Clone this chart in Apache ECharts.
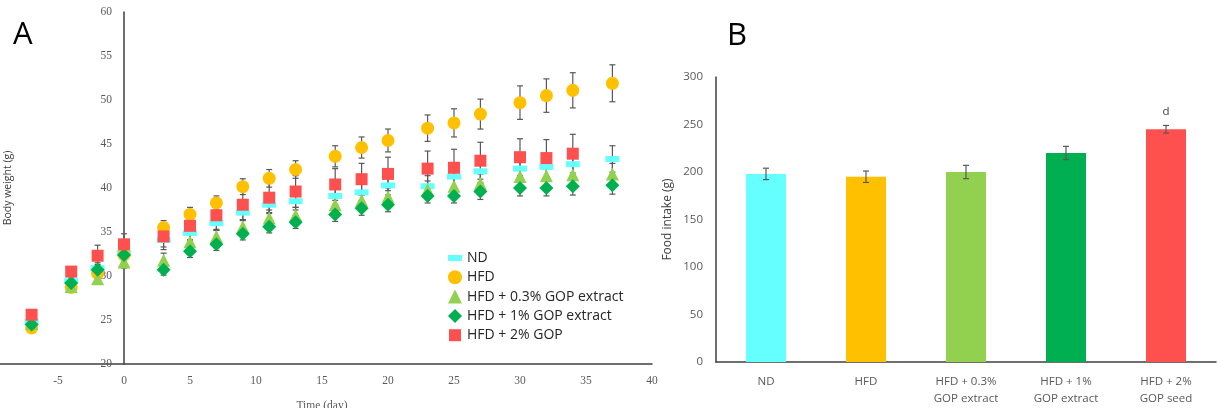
<!DOCTYPE html>
<html><head><meta charset="utf-8">
<script src="https://cdn.jsdelivr.net/npm/echarts@6/dist/echarts.min.js"></script>
<style>html,body{margin:0;padding:0;background:#fff}#c{width:1218px;height:408px}</style>
</head><body><div id="c"></div>
<script>
// ---- Panel A data: body weight (g) over time (day)
const days = [-7,-4,-2,0,3,5,7,9,11,13,16,18,20,23,25,27,30,32,34,37];
const seriesNames = ['ND','HFD','HFD + 0.3% GOP extract','HFD + 1% GOP extract','HFD + 2% GOP'];
const bwND    = [24.8,29.4,30.9,32.6,34.1,34.9,36.0,37.2,38.1,38.5,39.1,39.5,40.3,40.2,41.3,41.9,42.2,42.4,42.7,43.3];
const bwHFD   = [24.1,28.7,30.3,32.4,35.5,37.0,38.3,40.15,41.1,42.1,43.6,44.6,45.4,46.8,47.4,48.4,49.7,50.5,51.1,51.9];
const bwG03   = [24.6,28.8,29.7,31.6,31.8,33.9,34.5,35.6,36.6,36.9,38.1,38.6,39.0,39.8,40.2,40.5,41.3,41.4,41.5,41.6];
const bwG1    = [24.5,29.2,30.7,32.4,30.7,32.8,33.6,34.8,35.6,36.1,37.0,37.7,38.1,39.1,39.1,39.6,40.0,40.0,40.2,40.3];
const bwG2    = [25.6,30.5,32.3,33.6,34.5,35.7,36.9,38.1,38.9,39.6,40.4,41.0,41.6,42.2,42.3,43.1,43.5,43.4,43.9,null];
const errND   = [0.3,0.5,0.6,0.7,0.8,0.8,0.8,0.9,0.9,1.0,1.0,1.0,1.1,1.2,1.2,1.3,1.3,1.3,1.4,1.5];
const errHFD  = [0.3,0.5,0.6,0.7,0.8,0.8,0.8,0.9,1.0,1.0,1.2,1.2,1.3,1.5,1.6,1.7,1.9,1.9,2.0,2.1];
const errG03  = [0.3,0.5,0.6,0.7,0.8,0.8,0.8,0.8,0.9,0.9,1.0,1.0,1.0,1.0,1.0,1.1,1.1,1.1,1.1,1.2];
const errG1   = [0.3,0.5,0.6,0.6,0.6,0.7,0.7,0.7,0.7,0.7,0.8,0.8,0.8,0.8,0.8,0.9,0.9,0.9,1.0,1.0];
const errG2   = [0.3,0.5,1.2,1.2,1.5,1.6,1.7,1.7,1.8,1.8,1.8,1.8,1.9,2.0,2.1,2.1,2.1,2.1,2.2,null];

// ---- Panel B data: food intake (g)
const fiCategories = ['ND','HFD','HFD + 0.3%\nGOP extract','HFD + 1%\nGOP extract','HFD + 2%\nGOP seed'];
const fiValues = [198,195,200,220,245];
const fiErrors = [6,6,7,7,4];
const fiLetters = ['','','','','d'];

const colors = ['#66FFFF','#FFC000','#92D050','#00B050','#FF5050'];
const symbols = ['rect','circle','triangle','diamond','rect'];
const symbolSizes = [[14,6],13,[13,13],[14,14],12];
const legendIcons = ['path://M0,0M14,14M0,4L14,4L14,10L0,10Z','circle','triangle','diamond','path://M0,0M14,14M1,1L13,1L13,13L1,13Z'];
const bwAll = [bwND,bwHFD,bwG03,bwG1,bwG2];
const errAll = [errND,errHFD,errG03,errG1,errG2];

const AX = '#404040', LBL = '#595959', ERR = '#595959';

function errRender(params, api){
  const x = api.value(0), y = api.value(1), e = api.value(2);
  const top = api.coord([x, y + e]);
  const bot = api.coord([x, y - e]);
  const cap = 3;
  const style = {stroke: ERR, lineWidth: 1.2};
  return {type:'group', children:[
    {type:'line', shape:{x1:top[0],y1:top[1],x2:bot[0],y2:bot[1]}, style},
    {type:'line', shape:{x1:top[0]-cap,y1:top[1],x2:top[0]+cap,y2:top[1]}, style},
    {type:'line', shape:{x1:bot[0]-cap,y1:bot[1],x2:bot[0]+cap,y2:bot[1]}, style}
  ]};
}

const series = [];
// error bars (under markers)
bwAll.forEach((vals, s) => {
  series.push({
    type:'custom', xAxisIndex:0, yAxisIndex:0, z:1, silent:true,
    renderItem: errRender,
    encode:{x:0,y:1},
    data: days.map((d,i)=> vals[i]==null ? null : [d, vals[i], errAll[s][i]]).filter(v=>v)
  });
});
bwAll.forEach((vals, s) => {
  series.push({
    name: seriesNames[s], type:'scatter', xAxisIndex:0, yAxisIndex:0, z:2,
    symbol: symbols[s], symbolSize: symbolSizes[s],
    itemStyle:{color: colors[s], opacity:1},
    data: days.map((d,i)=> vals[i]==null ? null : [d, vals[i]]).filter(v=>v)
  });
});
// panel B
series.push({
  type:'bar', xAxisIndex:1, yAxisIndex:1, barWidth:40, z:2,
  data: fiValues.map((v,i)=>({value:v, itemStyle:{color:colors[i]},
    label:{show: !!fiLetters[i], position:'top', distance:12, formatter: fiLetters[i],
      color:'#404040', fontFamily:'Open Sans', fontSize:11.5}}))
});
series.push({
  type:'custom', xAxisIndex:1, yAxisIndex:1, z:3, silent:true,
  renderItem: errRender, encode:{x:0,y:1},
  data: fiValues.map((v,i)=>[i, v, fiErrors[i]])
});

const option = {
  animation:false,
  backgroundColor:'#ffffff',
  graphic:[
    {type:'text', left:13, top:20, style:{text:'A', fontFamily:'Open Sans', fontSize:31, fill:'#000'}},
    {type:'text', left:727, top:21, style:{text:'B', fontFamily:'Open Sans', fontSize:31, fill:'#000'}}
  ],
  legend:{
    orient:'vertical', left:443, top:246, itemWidth:14, itemHeight:14, itemGap:5.3,
    itemStyle:{opacity:1},
    textStyle:{fontFamily:'Open Sans', fontSize:14, color:'#262626'},
    data: seriesNames.map((n,i)=>({name:n, icon: legendIcons[i]})),
    selectedMode:false
  },
  grid:[
    {left:-8, top:12, width:660, height:352, outerBoundsMode:'none', containLabel:false},
    {left:716, top:77, width:500, height:285, outerBoundsMode:'none', containLabel:false}
  ],
  xAxis:[
    {type:'value', gridIndex:0, min:-10, max:40, interval:5,
     name:'Time (day)', nameLocation:'middle', nameGap:36,
     nameTextStyle:{fontFamily:'Liberation Serif', fontSize:11.5, color:LBL},
     axisLine:{show:true, onZero:false, lineStyle:{color:AX, width:1.5}},
     axisTick:{show:false}, splitLine:{show:false},
     axisLabel:{fontFamily:'Liberation Serif', fontSize:11.5, color:LBL, margin:11, showMinLabel:true}},
    {type:'category', gridIndex:1, data: fiCategories,
     axisLine:{show:true, lineStyle:{color:AX, width:1.5}},
     axisTick:{show:false}, splitLine:{show:false},
     axisLabel:{fontFamily:'Open Sans', fontSize:11.5, color:LBL, margin:11, lineHeight:17, interval:0}}
  ],
  yAxis:[
    {type:'value', gridIndex:0, min:20, max:60, interval:5, position:'left', offset:-132,
     name:'Body weight (g)', nameLocation:'middle', nameGap:110, nameRotate:90,
     nameTextStyle:{fontFamily:'Open Sans', fontSize:10.5, color:'#404040'},
     axisLine:{show:true, onZero:false, lineStyle:{color:AX, width:1.5}},
     axisTick:{show:false}, splitLine:{show:false},
     axisLabel:{fontFamily:'Liberation Serif', fontSize:11.5, color:LBL, margin:12}},
    {type:'value', gridIndex:1, min:0, max:300, interval:50,
     name:'Food intake (g)', nameLocation:'middle', nameGap:42, nameRotate:90,
     nameTextStyle:{fontFamily:'Open Sans', fontSize:12, color:'#404040'},
     axisLine:{show:true, lineStyle:{color:AX, width:1.5}},
     axisTick:{show:false}, splitLine:{show:false},
     axisLabel:{fontFamily:'Open Sans', fontSize:11.5, color:LBL, margin:13}}
  ],
  series
};
const chart = echarts.init(document.getElementById('c'), null, {renderer:'canvas'});
chart.setOption(option);
</script>
</body></html>
